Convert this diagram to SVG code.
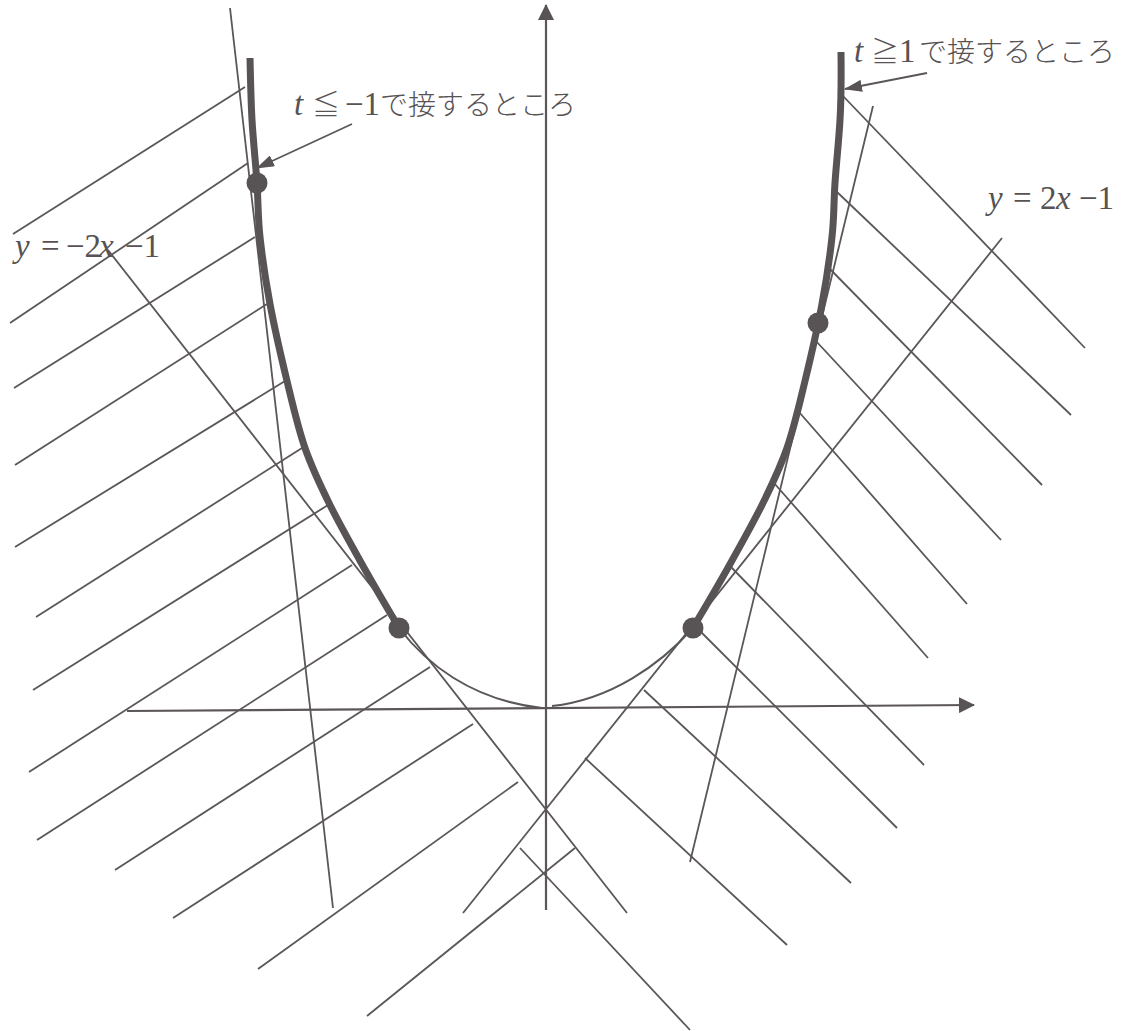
<svg xmlns="http://www.w3.org/2000/svg" width="1123" height="1031" viewBox="0 0 1123 1031">
<style>
.ln{stroke:#5b5657;stroke-width:1.8;fill:none}
.ax{stroke:#5b5657;stroke-width:2.2;fill:none}
.thick{stroke:#585354;stroke-width:7;fill:none}
.thin{stroke:#5b5657;stroke-width:2;fill:none}
.dot{fill:#585354}
.lat{font-family:"Liberation Serif","Noto Sans CJK JP",serif;font-size:33px;fill:#575253}
.jp{font-family:"Noto Sans CJK JP",sans-serif;font-size:28px;font-weight:300}
.it{font-style:italic}
</style>
<defs>
<marker id="ah" viewBox="0 0 18 12" refX="17" refY="6" markerWidth="18" markerHeight="12" markerUnits="userSpaceOnUse" orient="auto"><path d="M0,0 L18,6 L0,12 z" fill="#585354"/></marker>
<marker id="axh" viewBox="0 0 16 16" refX="15" refY="8" markerWidth="16" markerHeight="16" markerUnits="userSpaceOnUse" orient="auto"><path d="M0,0 L16,8 L0,16 z" fill="#585354"/></marker>
</defs>
<rect width="1123" height="1031" fill="#ffffff"/>

<g id="connectors">
  <g id="hatch-left">
    <line class="ln" x1="13" y1="234" x2="245" y2="87"/>
    <line class="ln" x1="10" y1="323" x2="248" y2="163"/>
    <line class="ln" x1="14" y1="388" x2="255" y2="237"/>
    <line class="ln" x1="15" y1="465" x2="267" y2="304"/>
    <line class="ln" x1="15" y1="547" x2="285" y2="381"/>
    <line class="ln" x1="36" y1="617" x2="302" y2="448"/>
    <line class="ln" x1="33" y1="690" x2="328" y2="505"/>
    <line class="ln" x1="29" y1="772" x2="352" y2="565"/>
    <line class="ln" x1="37" y1="840" x2="387" y2="615"/>
    <line class="ln" x1="115" y1="870" x2="430" y2="667"/>
    <line class="ln" x1="173" y1="918" x2="473" y2="724"/>
    <line class="ln" x1="258" y1="969" x2="518" y2="782"/>
    <line class="ln" x1="367" y1="1016" x2="575" y2="848"/>
  </g>
  <g id="hatch-right">
    <line class="ln" x1="843" y1="96" x2="1085" y2="348"/>
    <line class="ln" x1="837" y1="192" x2="1071" y2="415"/>
    <line class="ln" x1="828" y1="267" x2="1042" y2="485"/>
    <line class="ln" x1="815" y1="340" x2="1001" y2="540"/>
    <line class="ln" x1="799" y1="412" x2="967" y2="604"/>
    <line class="ln" x1="774" y1="483" x2="928" y2="658"/>
    <line class="ln" x1="731" y1="567" x2="924" y2="765"/>
    <line class="ln" x1="701" y1="632" x2="897" y2="828"/>
    <line class="ln" x1="644" y1="690" x2="851" y2="883"/>
    <line class="ln" x1="585" y1="758" x2="787" y2="945"/>
    <line class="ln" x1="520" y1="848" x2="690" y2="1030"/>
  </g>
  <g id="tangents">
    <line class="ln" x1="230" y1="8" x2="333" y2="908"/>
    <line class="ln" x1="873" y1="106" x2="690" y2="862"/>
    <line class="ln" x1="108" y1="250" x2="627" y2="913"/>
    <line class="ln" x1="463" y1="913" x2="1002" y2="238"/>
  </g>
  <g id="axes">
    <line class="ax" x1="127" y1="711" x2="974" y2="705" marker-end="url(#axh)"/>
    <line class="ax" x1="546" y1="910" x2="546" y2="5" marker-end="url(#axh)"/>
  </g>
  <g id="callouts">
    <line class="ln" x1="352" y1="124" x2="257" y2="168" marker-end="url(#ah)"/>
    <line class="ln" x1="927" y1="73" x2="845" y2="89" marker-end="url(#ah)"/>
  </g>
</g>

<g id="curve">
  <path class="thin" d="M399,628 C425,662 470,700 542,708"/>
  <path class="thin" d="M693,628 C660,665 610,700 552,706"/>
  <path class="thick" d="M250,58 C250.3,68.3 250.8,99.2 252,120 C253.2,140.8 255.7,163.5 257,183 C258.3,202.5 257.8,216.8 260,237 C262.2,257.2 265.5,280 270,304 C274.5,328 281.2,357 287,381 C292.8,405 297.8,427.3 305,448 C312.2,468.7 319.7,484.2 330,505 C340.3,525.8 355.5,552.5 367,573 C378.5,593.5 393.7,618.8 399,628"/>
  <path class="thick" d="M841,52 C841.2,68.3 841.2,99.2 840,120 C838.8,140.8 836.3,163.5 835,183 C833.7,202.5 834.2,216.8 832,237 C829.8,257.2 826.5,280 822,304 C817.5,328 810.8,357 805,381 C799.2,405 794.2,427.3 787,448 C779.8,468.7 772.3,484.2 762,505 C751.7,525.8 736.5,552.5 725,573 C713.5,593.5 698.3,618.8 693,628"/>
</g>

<g id="dot-left-top"><circle class="dot" cx="257" cy="183" r="10.5"/></g>
<g id="dot-left-bottom"><circle class="dot" cx="399" cy="628" r="10.5"/></g>
<g id="dot-right-bottom"><circle class="dot" cx="693" cy="628" r="10.5"/></g>
<g id="dot-right-top"><circle class="dot" cx="818" cy="323" r="10.5"/></g>

<g id="label-t-le">
  <text class="lat" y="115"><tspan class="it" x="294">t</tspan><tspan class="jp" x="312">≦</tspan><tspan x="345">−1</tspan><tspan class="jp" x="380">で接するところ</tspan></text>
</g>
<g id="label-t-ge">
  <text class="lat" y="62"><tspan class="it" x="854">t</tspan><tspan class="jp" x="871">≧</tspan><tspan x="899">1</tspan><tspan class="jp" x="919">で接するところ</tspan></text>
</g>
<g id="label-line-left">
  <text class="lat" y="257"><tspan class="it" x="15">y</tspan><tspan x="41">=</tspan><tspan x="66">−2</tspan><tspan class="it" x="99">x</tspan><tspan x="125">−1</tspan></text>
</g>
<g id="label-line-right">
  <text class="lat" y="209"><tspan class="it" x="988">y</tspan><tspan x="1013">=</tspan><tspan x="1040">2</tspan><tspan class="it" x="1056">x</tspan><tspan x="1079">−1</tspan></text>
</g>
</svg>
